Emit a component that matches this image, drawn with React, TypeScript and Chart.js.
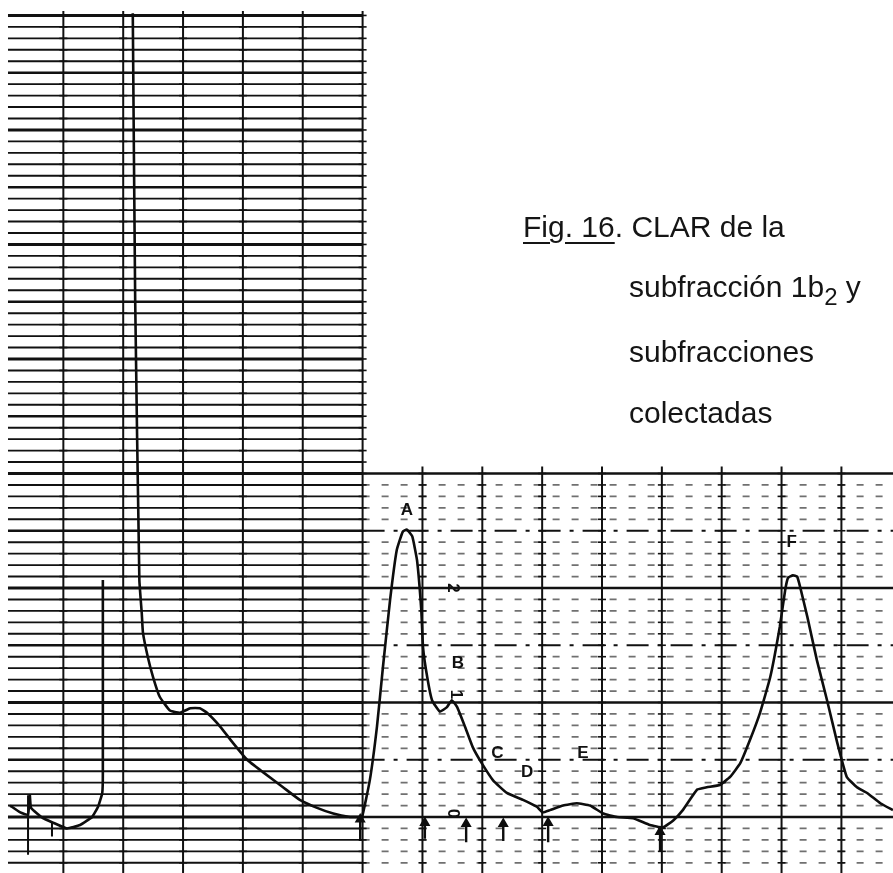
import React, { useEffect, useRef } from 'react';
import { Chart, registerables } from 'chart.js';

Chart.register(...registerables);

// ---- Chromatogram trace (x: chart-paper divisions, y: absorbance-scale units, 0/1/2 marks) ----
const traceX = [
  0.11, 0.28, 0.41, 0.44, 0.46, 0.66, 0.83, 1.06, 1.28, 1.48, 1.58, 1.65, 1.66, 1.66,
  1.67,
  2.16, 2.2, 2.27, 2.31, 2.33, 2.41, 2.5, 2.61, 2.78, 2.95,
  3.12, 3.28, 3.4, 3.62, 3.83, 4.07, 4.34, 4.67, 4.95, 5.24,
  5.51, 5.79, 5.92, 5.99, 6.12, 6.24, 6.34, 6.46, 6.57, 6.67,
  6.74, 6.83, 6.91, 6.98, 7.01, 7.08, 7.16, 7.29, 7.41, 7.49,
  7.58, 7.71, 7.84, 7.99, 8.18, 8.41, 8.68, 8.91, 9.01, 9.13,
  9.35, 9.58, 9.8, 10.02, 10.25, 10.52, 10.8, 11.02, 11.19, 11.35,
  11.59, 11.75, 11.97, 12.14, 12.31, 12.47, 12.64, 12.81, 12.97, 13.06,
  13.11, 13.19, 13.26, 13.31, 13.43, 13.59, 13.76, 13.93, 14.09, 14.26,
  14.43, 14.65, 14.86,
];
const traceY: (number | null)[] = [
  0.1, 0.04, 0.02, 0.19, 0.08, -0.01, -0.05, -0.1, -0.07, 0.0, 0.09, 0.21, 0.38, 2.07,
  null,
  7.02, 4.52, 2.07, 1.78, 1.61, 1.4, 1.22, 1.05, 0.93, 0.91,
  0.95, 0.95, 0.91, 0.79, 0.65, 0.5, 0.39, 0.26, 0.15, 0.08,
  0.03, 0.0, 0.0, 0.0, 0.32, 0.79, 1.31, 1.9, 2.33, 2.49,
  2.51, 2.45, 2.24, 1.81, 1.48, 1.22, 1.02, 0.92, 0.96, 1.02,
  0.96, 0.79, 0.61, 0.47, 0.32, 0.21, 0.15, 0.09, 0.04, 0.06,
  0.1, 0.12, 0.1, 0.03, 0.0, -0.01, -0.07, -0.09, -0.03, 0.06,
  0.24, 0.26, 0.28, 0.35, 0.47, 0.67, 0.91, 1.22, 1.66, 1.98,
  2.09, 2.11, 2.1, 2.01, 1.75, 1.37, 1.02, 0.65, 0.35, 0.26,
  0.21, 0.12, 0.06,
];

// ---- Fraction-collection arrows (↑) ----
const fractionMarkX = [5.96, 7.04, 7.73, 8.35, 9.1, 10.97];
const fractionMarkTop = [-0.02, -0.05, -0.06, -0.06, -0.05, -0.13];
const fractionMarkBottom = [-0.21, -0.19, -0.22, -0.21, -0.22, -0.3];

// ---- Other pen marks (injection etc.) ----
const penMarkX = [0.41, 0.81];
const penMarkTop = [0.19, -0.05];
const penMarkBottom = [-0.33, -0.17];

// ---- Peak labels ----
const peakLabels = ['A', 'B', 'C', 'D', 'E', 'F'];
const peakLabelX = [6.74, 7.59, 8.25, 8.75, 9.68, 13.17];
const peakLabelY = [2.68, 1.34, 0.56, 0.39, 0.56, 2.4];

// ---- Hand-written scale marks ----
const scaleMarkText = ['0', '1', '2'];
const scaleMarkX = [7.51, 7.55, 7.51];
const scaleMarkY = [0.03, 1.07, 2.0];

// ---- Caption ----
const captionLines = ['CLAR de la', 'subfracción 1b', 'subfracciones', 'colectadas'];

const X_MIN = -0.0585;
const X_MAX = 14.862;
const Y_MIN = -0.489;
const Y_MAX = 7.135;

// paper extents (in scale units)
const PAPER_LEFT = 0.075;
const PAPER_TOP = 7.04;
const CUT_LEFT = 6;
const CUT_BOTTOM = 3.06;

const paperGrid = {
  id: 'paperGrid',
  beforeDatasetsDraw(chart: any) {
    const { ctx, scales } = chart;
    const X = (v: number) => scales.x.getPixelForValue(v);
    const Y = (v: number) => scales.y.getPixelForValue(v);
    const W = chart.width;
    const H = chart.height;
    ctx.save();
    ctx.fillStyle = '#ffffff';
    ctx.fillRect(0, 0, W, H);
    ctx.strokeStyle = '#111';
    ctx.lineCap = 'butt';

    const xl = X(PAPER_LEFT);
    const xs = X(CUT_LEFT);
    const topL = Y(PAPER_TOP);
    const topR = Y(CUT_BOTTOM);

    // left strip: dense, solid lines
    for (let i = -4; i <= 70; i++) {
      const v = i / 10;
      const py = Y(v);
      if (py < topL - 0.5 || py > H) continue;
      const major = i % 5 === 0;
      ctx.lineWidth = i % 10 === 0 ? 3 : major ? 2.6 : 1.9;
      ctx.setLineDash([]);
      ctx.beginPath();
      ctx.moveTo(xl, py);
      ctx.lineTo(xs, py);
      ctx.stroke();
    }
    // right lower block
    for (let i = -4; i <= 30; i++) {
      const v = i / 10;
      const py = Y(v);
      if (py < topR - 0.5 || py > H) continue;
      ctx.globalAlpha = 1;
      if (i % 10 === 0) {
        ctx.lineWidth = 2.4;
        ctx.setLineDash([]);
      } else if (i % 5 === 0) {
        ctx.lineWidth = 2.2;
        ctx.setLineDash([22, 9, 4, 9]);
      } else {
        ctx.lineWidth = 1.7;
        ctx.globalAlpha = 0.6;
        ctx.setLineDash([7, 12]);
      }
      ctx.beginPath();
      ctx.moveTo(xs, py);
      ctx.lineTo(W, py);
      ctx.stroke();
    }
    ctx.globalAlpha = 1;
    ctx.setLineDash([]);
    // vertical lines with + ticks
    for (let k = 1; k <= 14; k++) {
      const px = X(k);
      const top = k <= CUT_LEFT ? topL : topR;
      ctx.lineWidth = 2;
      ctx.beginPath();
      ctx.moveTo(px, top);
      ctx.lineTo(px, H);
      ctx.stroke();
      ctx.lineWidth = 1.6;
      for (let i = -4; i <= 70; i++) {
        const py = Y(i / 10);
        if (py < top || py > H) continue;
        ctx.beginPath();
        ctx.moveTo(px - 4, py);
        ctx.lineTo(px + 4, py);
        ctx.stroke();
      }
    }
    ctx.restore();
  },
};

const penText = {
  id: 'penText',
  afterDatasetsDraw(chart: any) {
    const { ctx, scales } = chart;
    const X = (v: number) => scales.x.getPixelForValue(v);
    const Y = (v: number) => scales.y.getPixelForValue(v);
    ctx.save();
    ctx.fillStyle = '#111';
    ctx.textAlign = 'center';
    ctx.textBaseline = 'middle';
    ctx.font = 'bold 17px "Liberation Sans", Arial, sans-serif';
    peakLabels.forEach((t, i) => {
      ctx.fillText(t, X(peakLabelX[i]), Y(peakLabelY[i]));
    });
    ctx.font = 'bold 17px "Liberation Sans", Arial, sans-serif';
    scaleMarkText.forEach((t, i) => {
      ctx.save();
      ctx.translate(X(scaleMarkX[i]), Y(scaleMarkY[i]));
      ctx.rotate(Math.PI / 2);
      ctx.fillText(t, 0, 0);
      ctx.restore();
    });
    ctx.restore();
  },
};

export default function App() {
  const ref = useRef<HTMLCanvasElement>(null);

  useEffect(() => {
    if (!ref.current) return;
    const trace = traceX.map((x, i) => ({ x, y: traceY[i] }));
    const arrows: any[] = [];
    fractionMarkX.forEach((x, i) => {
      arrows.push({ x, y: fractionMarkTop[i], tip: true });
      arrows.push({ x, y: fractionMarkBottom[i] });
      arrows.push({ x, y: null });
    });
    const marks: any[] = [];
    penMarkX.forEach((x, i) => {
      marks.push({ x, y: penMarkTop[i] });
      marks.push({ x, y: penMarkBottom[i] });
      marks.push({ x, y: null });
    });

    const chart = new Chart(ref.current, {
      type: 'scatter',
      data: {
        datasets: [
          {
            label: 'CLAR subfracción 1b2',
            data: trace,
            showLine: true,
            spanGaps: false,
            borderColor: '#0d0d0d',
            borderWidth: 2.6,
            pointRadius: 0,
            tension: 0.12,
          },
          {
            label: 'fracciones colectadas',
            data: arrows,
            showLine: true,
            spanGaps: false,
            borderColor: '#0d0d0d',
            borderWidth: 2.4,
            pointStyle: 'triangle',
            pointRadius: (c: any) => (c.raw && c.raw.tip ? 4 : 0),
            pointBackgroundColor: '#0d0d0d',
            pointBorderColor: '#0d0d0d',
            tension: 0,
          },
          {
            label: 'marcas',
            data: marks,
            showLine: true,
            spanGaps: false,
            borderColor: '#0d0d0d',
            borderWidth: 2,
            pointRadius: 0,
            tension: 0,
          },
        ],
      },
      options: {
        animation: false,
        responsive: false,
        maintainAspectRatio: false,
        layout: { padding: 0, autoPadding: false },
        plugins: {
          legend: { display: false },
          tooltip: { enabled: false },
        },
        scales: {
          x: { type: 'linear', min: X_MIN, max: X_MAX, display: false },
          y: { type: 'linear', min: Y_MIN, max: Y_MAX, display: false },
        },
      },
      plugins: [paperGrid, penText],
    });
    return () => chart.destroy();
  }, []);

  const cap: React.CSSProperties = {
    position: 'absolute',
    fontFamily: '"Liberation Sans", Arial, Helvetica, sans-serif',
    fontSize: 30,
    lineHeight: '30px',
    color: '#151515',
    whiteSpace: 'nowrap',
  };

  return (
    <div style={{ position: 'absolute', left: 0, top: 0, width: 893, height: 873, background: '#fff', overflow: 'hidden' }}>
      <canvas ref={ref} width={893} height={873} style={{ display: 'block', width: 893, height: 873 }} />
      <div style={{ ...cap, left: 523, top: 212 }}>
        <span style={{ textDecoration: 'underline', textDecorationThickness: 2, textUnderlineOffset: 5 }}>Fig. 16</span>. {captionLines[0]}
      </div>
      <div style={{ ...cap, left: 629, top: 272 }}>
        {captionLines[1]}
        <span style={{ fontSize: 24, position: 'relative', top: 8 }}>2</span> y
      </div>
      <div style={{ ...cap, left: 629, top: 337 }}>{captionLines[2]}</div>
      <div style={{ ...cap, left: 629, top: 398 }}>{captionLines[3]}</div>
    </div>
  );
}
